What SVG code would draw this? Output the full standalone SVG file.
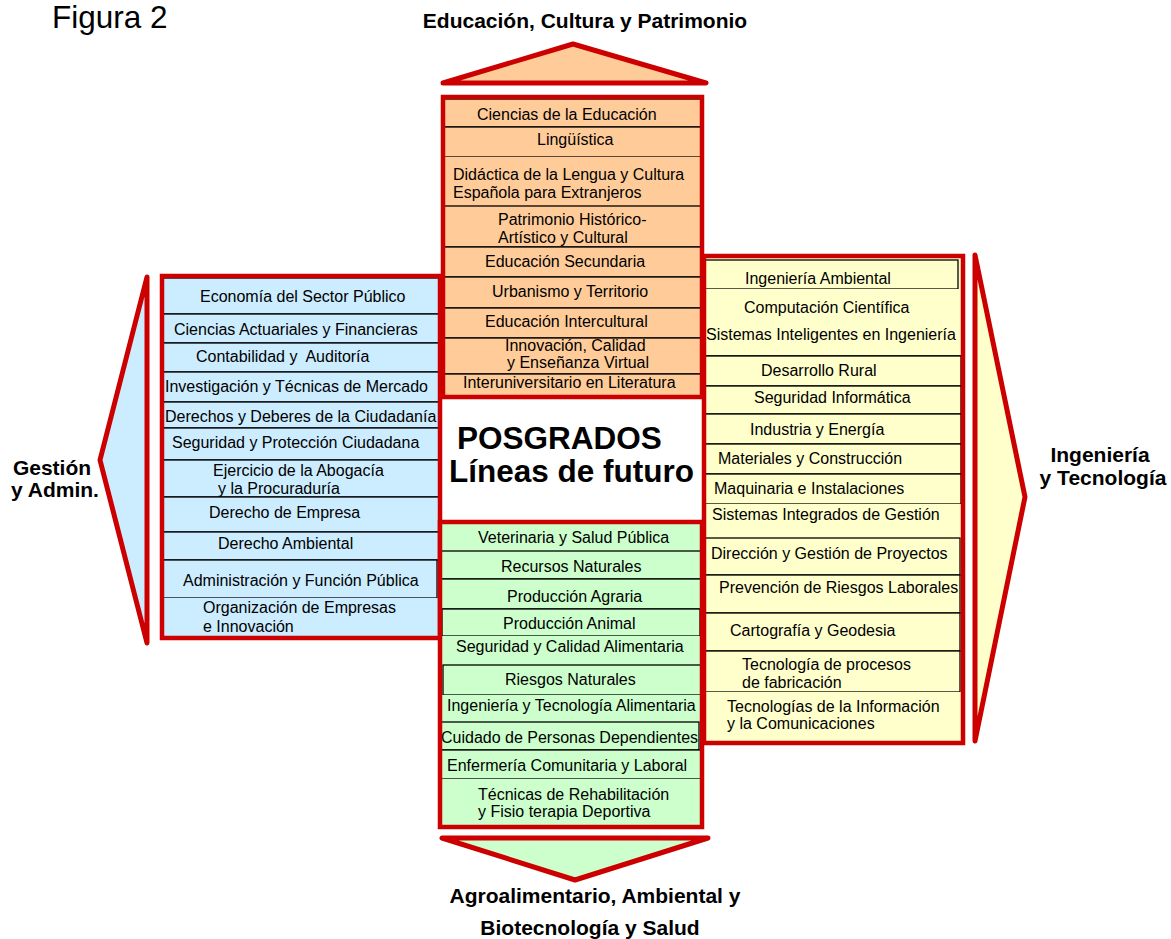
<svg xmlns="http://www.w3.org/2000/svg" width="1171" height="939" viewBox="0 0 1171 939">
<style>
text{font-family:"Liberation Sans",Arial,sans-serif;fill:#000}
.t{font-size:16px}
.h{font-size:21px;font-weight:bold}
.big{font-size:31.5px;font-weight:bold}
.row{stroke:#000;stroke-width:1.3}
.pe{fill:#FFCC99}.bl{fill:#CCECFF}.ye{fill:#FFFFCC}.gr{fill:#CCFFCC}
.frame{fill:none;stroke:#CC0000;stroke-width:4.5}
.arrow{stroke:#CC0000;stroke-width:5;stroke-linejoin:round}
.nb{stroke:none}
</style>
<rect width="1171" height="939" fill="#fff"/>
<text x="52" y="28" style="font-size:31.5px">Figura 2</text>

<g id="arrows">
<polygon class="arrow pe" points="443,83 573,44 706,83"/>
<polygon class="arrow gr" points="442,838 708,838 575,880"/>
<polygon class="arrow bl" points="147,277 100,460 147,643"/>
<polygon class="arrow ye" points="975,255 1025,497 975,741"/>
</g>

<g id="labels">
<text class="h" x="585" y="28" text-anchor="middle">Educación, Cultura y Patrimonio</text>
<text class="h" x="595" y="903" text-anchor="middle">Agroalimentario, Ambiental y</text>
<text class="h" x="590" y="935" text-anchor="middle">Biotecnología y Salud</text>
<text class="h" x="52" y="475" text-anchor="middle">Gestión</text>
<text class="h" x="55" y="497" text-anchor="middle">y Admin.</text>
<text class="h" x="1100" y="462" text-anchor="middle">Ingeniería</text>
<text class="h" x="1103" y="485" text-anchor="middle">y Tecnología</text>
</g>

<g id="center">
<text class="big" x="457" y="449">POSGRADOS</text>
<text class="big" x="449" y="482">Líneas de futuro</text>
</g>

<!-- Top panel -->
<g id="top-panel">
<rect class="pe nb" x="443" y="97" width="259" height="300"/>
<g id="e1"><rect class="row pe" x="444" y="99" width="257" height="28"/><text class="t" x="477" y="120">Ciencias de la Educación</text></g>
<g id="e2"><rect class="row pe" x="444" y="127" width="257" height="30"/><text class="t" x="537" y="145">Lingüística</text></g>
<g id="e3"><rect class="pe nb" x="444" y="157" width="257" height="49"/><text class="t" x="453" y="180">Didáctica de la Lengua y Cultura</text><text class="t" x="453" y="198">Española para Extranjeros</text></g>
<g id="e4"><rect class="row pe" x="442" y="206" width="261" height="41"/><text class="t" x="498" y="225">Patrimonio Histórico-</text><text class="t" x="498" y="243">Artístico y Cultural</text></g>
<g id="e5"><rect class="row pe" x="444" y="247" width="257" height="30"/><text class="t" x="485" y="267">Educación Secundaria</text></g>
<g id="e6"><rect class="row pe" x="444" y="277" width="257" height="31"/><text class="t" x="492" y="297">Urbanismo y Territorio</text></g>
<g id="e7"><rect class="row pe" x="444" y="308" width="257" height="30"/><text class="t" x="485" y="327">Educación Intercultural</text></g>
<g id="e8"><rect class="row pe" x="444" y="338" width="257" height="36"/><text class="t" x="505" y="351">Innovación, Calidad</text><text class="t" x="507" y="368">y Enseñanza Virtual</text></g>
<g id="e9"><rect class="row pe" x="444" y="374" width="257" height="22"/><text class="t" x="463" y="388">Interuniversitario en Literatura</text></g>
<rect class="frame" x="443" y="97" width="259" height="300"/>
</g>

<!-- Left panel -->
<g id="left-panel">
<rect class="bl nb" x="162" y="276" width="278" height="362"/>
<g id="g1"><rect class="row bl" x="163" y="278" width="277" height="36"/><text class="t" x="200" y="302">Economía del Sector Público</text></g>
<g id="g2"><rect class="row bl" x="163" y="314" width="277" height="29"/><text class="t" x="174" y="335">Ciencias Actuariales y Financieras</text></g>
<g id="g3"><rect class="row bl" x="163" y="343" width="277" height="29"/><text class="t" x="196" y="362">Contabilidad y&#160; Auditoría</text></g>
<g id="g4"><rect class="row bl" x="163" y="372" width="277" height="30"/><text class="t" x="165" y="392">Investigación y Técnicas de Mercado</text></g>
<g id="g5"><rect class="row bl" x="163" y="402" width="277" height="26"/><text class="t" x="165" y="422">Derechos y Deberes de la Ciudadanía</text></g>
<g id="g6"><rect class="row bl" x="163" y="428" width="278" height="32"/><text class="t" x="172" y="448">Seguridad y Protección Ciudadana</text></g>
<g id="g7"><rect class="row bl" x="163" y="460" width="277" height="37"/><text class="t" x="213" y="476">Ejercicio de la Abogacía</text><text class="t" x="218" y="494">y la Procuraduría</text></g>
<g id="g8"><rect class="row bl" x="163" y="497" width="277" height="35"/><text class="t" x="209" y="518">Derecho de Empresa</text></g>
<g id="g9"><rect class="row bl" x="163" y="532" width="277" height="28"/><text class="t" x="218" y="549">Derecho Ambiental</text></g>
<g id="g10"><rect class="row bl" x="163" y="560" width="274" height="38"/><text class="t" x="183" y="586">Administración y Función Pública</text></g>
<g id="g11"><rect class="bl nb" x="163" y="598" width="277" height="38"/><text class="t" x="203" y="613">Organización de Empresas</text><text class="t" x="203" y="632">e Innovación</text></g>
<rect class="frame" x="162" y="276" width="278" height="362"/>
</g>

<!-- Right panel -->
<g id="right-panel">
<rect class="ye nb" x="704" y="256" width="259" height="487"/>
<g id="i1"><rect class="row ye" x="704" y="260" width="254" height="29"/><text class="t" x="745" y="284">Ingeniería Ambiental</text></g>
<g id="i2"><rect class="ye nb" x="705" y="289" width="256" height="33"/><text class="t" x="744" y="313">Computación Científica</text></g>
<g id="i3"><rect class="ye nb" x="705" y="322" width="256" height="34"/><line class="row" x1="705" y1="356" x2="961" y2="356"/><text class="t" x="706" y="340">Sistemas Inteligentes en Ingeniería</text></g>
<g id="i4"><rect class="row ye" x="705" y="356" width="256" height="30"/><text class="t" x="761" y="376">Desarrollo Rural</text></g>
<g id="i5"><rect class="row ye" x="705" y="386" width="256" height="28"/><text class="t" x="754" y="403">Seguridad Informática</text></g>
<g id="i6"><rect class="row ye" x="705" y="414" width="256" height="30"/><text class="t" x="750" y="435">Industria y Energía</text></g>
<g id="i7"><rect class="row ye" x="705" y="444" width="256" height="30"/><text class="t" x="718" y="464">Materiales y Construcción</text></g>
<g id="i8"><rect class="row ye" x="705" y="474" width="256" height="30"/><text class="t" x="714" y="494">Maquinaria e Instalaciones</text></g>
<g id="i9"><rect class="ye nb" x="705" y="504" width="256" height="34"/><text class="t" x="712" y="520">Sistemas Integrados de Gestión</text></g>
<g id="i10"><rect class="row ye" x="705" y="538" width="255" height="37"/><text class="t" x="711" y="559">Dirección y Gestión de Proyectos</text></g>
<g id="i11"><rect class="row ye" x="705" y="575" width="255" height="38"/><text class="t" x="719" y="593">Prevención de Riesgos Laborales</text></g>
<g id="i12"><rect class="row ye" x="705" y="613" width="255" height="38"/><text class="t" x="730" y="636">Cartografía y Geodesia</text></g>
<g id="i13"><rect class="row ye" x="705" y="651" width="255" height="41"/><text class="t" x="742" y="670">Tecnología de procesos</text><text class="t" x="742" y="688">de fabricación</text></g>
<g id="i14"><rect class="ye nb" x="705" y="692" width="256" height="49"/><text class="t" x="727" y="712">Tecnologías de la Información</text><text class="t" x="727" y="729">y la Comunicaciones</text></g>
<rect class="frame" x="704" y="256" width="259" height="487"/>
</g>

<!-- Bottom panel -->
<g id="bottom-panel">
<rect class="gr nb" x="440" y="522" width="262" height="305"/>
<g id="a1"><rect class="gr nb" x="442" y="524" width="258" height="27"/><text class="t" x="478" y="543">Veterinaria y Salud Pública</text></g>
<g id="a2"><rect class="row gr" x="441" y="551" width="260" height="28"/><text class="t" x="501" y="572">Recursos Naturales</text></g>
<g id="a3"><rect class="row gr" x="441" y="579" width="260" height="30"/><text class="t" x="507" y="602">Producción Agraria</text></g>
<g id="a4"><rect class="row gr" x="442" y="609" width="258" height="27"/><text class="t" x="503" y="629">Producción Animal</text></g>
<g id="a5"><rect class="gr nb" x="442" y="636" width="258" height="29"/><text class="t" x="456" y="652">Seguridad y Calidad Alimentaria</text></g>
<g id="a6"><rect class="row gr" x="443" y="665" width="260" height="30"/><text class="t" x="505" y="685">Riesgos Naturales</text></g>
<g id="a7"><rect class="gr nb" x="442" y="695" width="258" height="27"/><text class="t" x="447" y="711">Ingeniería y Tecnología Alimentaria</text></g>
<g id="a8"><rect class="row gr" x="439" y="722" width="260" height="28"/><text class="t" x="441" y="743">Cuidado de Personas Dependientes</text></g>
<g id="a9"><rect class="row gr" x="441" y="750" width="260" height="29"/><text class="t" x="447" y="771">Enfermería Comunitaria y Laboral</text></g>
<g id="a10"><rect class="gr nb" x="442" y="779" width="258" height="46"/><text class="t" x="478" y="800">Técnicas de Rehabilitación</text><text class="t" x="478" y="817">y Fisio terapia Deportiva</text></g>
<rect class="frame" x="440" y="522" width="262" height="305"/>
</g>
</svg>
